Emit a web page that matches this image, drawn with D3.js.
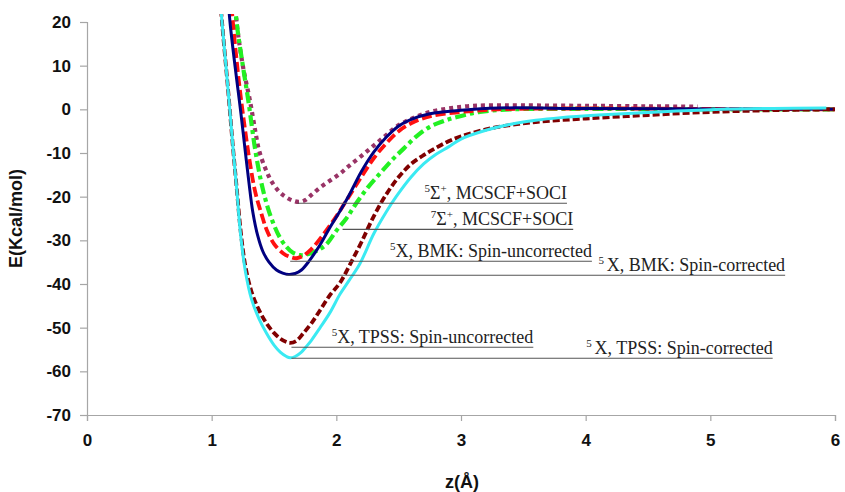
<!DOCTYPE html>
<html>
<head>
<meta charset="utf-8">
<script src="https://cdn.jsdelivr.net/npm/d3@7"></script>
<style>
  html, body { margin: 0; padding: 0; background: #fff; }
  svg { display: block; }
</style>
</head>
<body>
<svg id="chart" width="845" height="492"></svg>
<script>
// ---------- data (z in Å, E in kcal/mol) ----------
const xTicks = [0, 1, 2, 3, 4, 5, 6];
const yTicks = [20, 10, 0, -10, -20, -30, -40, -50, -60, -70];
const xLabel = "z(Å)";
const yLabel = "E(Kcal/mol)";

const sigma5 = [ // 5Σ+, MCSCF+SOCI
  [1.17,32],[1.2,20],[1.25,10],[1.307,2],[1.35,-5],[1.38,-9.4],[1.43,-13.5],[1.48,-16.5],
  [1.54,-18.8],[1.59,-20],[1.65,-20.9],[1.7,-21.2],[1.75,-20.8],[1.8,-19.6],[1.87,-17.9],
  [1.95,-16.3],[2.03,-14.7],[2.1,-13],[2.2,-10.7],[2.3,-8.3],[2.4,-5.9],[2.48,-4.0],[2.6,-2.2],
  [2.75,-0.6],[2.9,0.2],[3.05,0.7],[3.2,0.9],[3.5,0.9],[4.0,0.8],[4.5,0.7],[4.9,0.6]
];
const sigma7 = [ // 7Σ+, MCSCF+SOCI
  [1.17,30],[1.2,20],[1.25,10],[1.294,2],[1.35,-9.4],[1.4,-17],[1.45,-22.5],[1.5,-26.5],[1.55,-29.5],
  [1.6,-31.5],[1.65,-32.8],[1.71,-33.4],[1.77,-33.2],[1.85,-32.3],[1.92,-30.9],[2.0,-27.8],
  [2.08,-25],[2.16,-21.5],[2.25,-18],[2.35,-14.7],[2.45,-11.5],[2.54,-9],[2.65,-6],[2.75,-4.0],
  [2.85,-2.8],[2.96,-1.8],[3.15,-0.6],[3.4,0],[4.0,0.1],[5.0,0],[6.0,0]
];
const bmkUncorr = [ // 5X, BMK: Spin-uncorrected
  [1.14,30],[1.17,20],[1.22,6],[1.26,-3],[1.3,-11],[1.35,-19],[1.4,-24],[1.44,-27.5],[1.5,-30.8],
  [1.575,-33],[1.63,-33.8],[1.68,-34.1],[1.73,-33.6],[1.8,-32],[1.9,-28.5],[2.0,-24.5],[2.1,-20],
  [2.2,-15.5],[2.3,-11.2],[2.4,-7.8],[2.5,-5],[2.6,-3.2],[2.75,-1.6],[3.0,-0.6],[3.3,0],
  [4.0,0.2],[5.0,0.1],[6.0,0]
];
const bmkCorr = [ // 5X, BMK: Spin-corrected
  [1.12,30],[1.147,20],[1.2,7],[1.235,-1],[1.267,-9],[1.3,-17],[1.33,-23.5],[1.37,-29],[1.41,-32.5],
  [1.46,-35],[1.52,-36.8],[1.57,-37.5],[1.62,-37.8],[1.67,-37.6],[1.72,-36.8],[1.78,-34.8],
  [1.87,-31],[1.95,-27],[2.03,-23.3],[2.1,-19.8],[2.2,-14.3],[2.3,-9.8],[2.4,-6.4],[2.5,-3.8],
  [2.6,-2.3],[2.75,-1.0],[3.0,-0.2],[3.3,0.3],[4.0,0.2],[5.0,0.1],[6.0,0]
];
const tpssUncorr = [ // 5X, TPSS: Spin-uncorrected
  [1.05,32],[1.083,20],[1.13,5],[1.173,-9.4],[1.2,-17.8],[1.235,-28.5],[1.27,-35.8],[1.32,-41.8],
  [1.38,-46],[1.44,-49],[1.5,-51.2],[1.55,-52.5],[1.6,-53.3],[1.63,-53.5],[1.68,-53],[1.735,-51.3],
  [1.8,-49],[1.87,-46],[1.95,-42.5],[2.03,-39.7],[2.11,-35.5],[2.2,-30.5],[2.3,-24.5],[2.4,-19.5],
  [2.5,-15.5],[2.6,-12.5],[2.7,-10.5],[2.8,-8.8],[2.9,-7.3],[3.0,-6.2],[3.2,-4.6],[3.4,-3.6],
  [3.6,-2.9],[4.0,-2.1],[4.5,-1.3],[5.0,-0.6],[5.5,-0.2],[6.0,0]
];
const tpssCorr = [ // 5X, TPSS: Spin-corrected
  [1.05,32],[1.083,20],[1.13,5],[1.173,-9.4],[1.2,-18],[1.233,-29],[1.27,-37],[1.32,-43.5],
  [1.38,-48],[1.44,-51.3],[1.5,-54],[1.55,-55.6],[1.6,-56.6],[1.63,-56.9],[1.67,-56.6],[1.72,-55.6],
  [1.76,-54.3],[1.8,-52.9],[1.87,-50],[1.95,-46.5],[2.03,-42.3],[2.1,-39.3],[2.19,-35.3],
  [2.3,-28.5],[2.4,-23.5],[2.48,-20],[2.6,-15.5],[2.7,-12.5],[2.8,-10.3],[2.9,-8.6],[3.0,-6.8],
  [3.2,-4.8],[3.4,-3.4],[3.6,-2.5],[3.8,-1.9],[4.1,-1.3],[4.5,-0.7],[5.0,-0.1],[5.5,0.2],[5.93,0.3]
];

const annLabels = [
  {pre:"5", sym:"Σ", post:"+", rest:", MCSCF+SOCI"},
  {pre:"7", sym:"Σ", post:"+", rest:", MCSCF+SOCI"},
  {pre:"5", sym:"X", post:"",  rest:", BMK: Spin-uncorrected"},
  {pre:"5 ", sym:"X", post:"", rest:", BMK: Spin-corrected"},
  {pre:"5", sym:"X", post:"",  rest:", TPSS: Spin-uncorrected"},
  {pre:"5 ", sym:"X", post:"", rest:", TPSS: Spin-corrected"}
];
const annE      = [-21.5, -27.5, -34.8, -38.0, -54.5, -57.0];
const annZStart = [1.69, 2.05, 1.63, 1.60, 1.64, 1.64];
const annZEnd   = [3.85, 3.90, 4.05, 5.60, 3.58, 5.50];

// ---------- drawing ----------
const svg = d3.select("#chart");
const mLeft = 87, mRight = 835, mTop = 22, mBottom = 415;
const x = d3.scaleLinear().domain([0, 6]).range([mLeft, mRight]);
const y = d3.scaleLinear().domain([-70, 20]).range([mBottom, mTop]);

svg.append("defs").append("clipPath").attr("id", "plotClip")
  .append("rect").attr("x", mLeft).attr("y", 14)
  .attr("width", mRight - mLeft + 4).attr("height", mBottom - 14);

const axisColor = "#a6a6a6";
const tickFont = "'Liberation Sans', Arial, sans-serif";
const fmt = d => String(d); // plain hyphen-minus like the reference

const yAxis = svg.append("g").attr("transform", `translate(${mLeft},0)`)
  .call(d3.axisLeft(y).tickValues(yTicks).tickSize(7).tickPadding(9).tickFormat(fmt));
const xAxis = svg.append("g").attr("transform", `translate(0,${mBottom})`)
  .call(d3.axisBottom(x).tickValues(xTicks).tickSize(6).tickPadding(13).tickFormat(fmt));

[yAxis, xAxis].forEach(g => {
  g.select(".domain").attr("stroke", axisColor).attr("stroke-width", 1.2);
  g.selectAll(".tick line").attr("stroke", axisColor).attr("stroke-width", 1.2);
  g.selectAll(".tick text").attr("fill", "#111").attr("font-family", tickFont)
    .attr("font-weight", "bold").attr("font-size", 17);
});

svg.append("text").attr("transform", `translate(22,${(mTop + mBottom) / 2}) rotate(-90)`)
  .attr("text-anchor", "middle").attr("font-family", tickFont).attr("font-weight", "bold")
  .attr("font-size", 18).attr("fill", "#111").text(yLabel);
svg.append("text").attr("x", 462).attr("y", 488)
  .attr("text-anchor", "middle").attr("font-family", tickFont).attr("font-weight", "bold")
  .attr("font-size", 18).attr("fill", "#111").text(xLabel);

const line = d3.line().x(d => x(d[0])).y(d => y(d[1])).curve(d3.curveCatmullRom.alpha(0.5));
const plot = svg.append("g").attr("clip-path", "url(#plotClip)");
const seriesList = [
  {data: sigma5,     color: "#993366", width: 4.2, dash: "4,4"},
  {data: sigma7,     color: "#22f022", width: 4.2, dash: "11,4,4,4"},
  {data: bmkUncorr,  color: "#ff1010", width: 3.8, dash: "10,4"},
  {data: bmkCorr,    color: "#000080", width: 3.0, dash: null},
  {data: tpssUncorr, color: "#800000", width: 3.8, dash: "7,3"},
  {data: tpssCorr,   color: "#3aeaf2", width: 3.0, dash: null}
];
seriesList.forEach(s => {
  plot.append("path").attr("d", line(s.data)).attr("fill", "none")
    .attr("stroke", s.color).attr("stroke-width", s.width)
    .attr("stroke-dasharray", s.dash).attr("stroke-linejoin", "round");
});

const annFont = "'Liberation Serif', 'Times New Roman', serif";
annLabels.forEach((a, i) => {
  const yy = y(annE[i]);
  svg.append("line").attr("x1", x(annZStart[i])).attr("x2", x(annZEnd[i]))
    .attr("y1", yy).attr("y2", yy).attr("stroke", "#555").attr("stroke-width", 1.1);
  const t = svg.append("text").attr("x", x(annZEnd[i])).attr("y", yy - 4)
    .attr("text-anchor", "end").attr("font-family", annFont).attr("font-size", 18).attr("fill", "#222");
  t.append("tspan").attr("font-size", 11).attr("dy", -7).text(a.pre);
  t.append("tspan").attr("dy", 7).text(a.sym);
  if (a.post) {
    t.append("tspan").attr("font-size", 11).attr("dy", -7).text(a.post);
    t.append("tspan").attr("dy", 7).text(a.rest);
  } else {
    t.append("tspan").text(a.rest);
  }
});
</script>
</body>
</html>
